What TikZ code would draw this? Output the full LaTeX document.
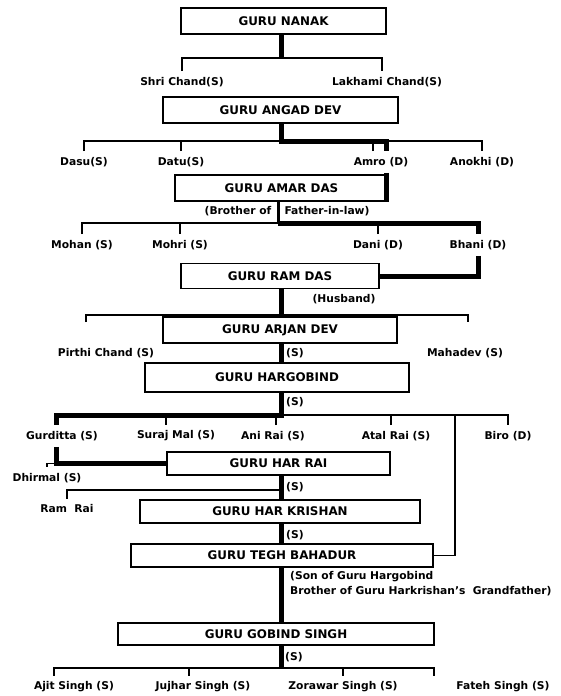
\documentclass[tikz,border=0pt]{standalone}
\usepackage{fontspec}
\setmainfont{DejaVu Sans}
\begin{document}
\begin{tikzpicture}
		[x=1pt,y=-1pt,
		guru/.style={draw,line width=1.9pt,inner sep=0pt,
			font=\bfseries\fontsize{11.9}{13}\selectfont},
		kin/.style={inner xsep=1pt,inner ysep=6pt,
			font=\bfseries\fontsize{10.7}{12}\selectfont},
		son/.style={kin,anchor=west,inner ysep=1pt},
		branch/.style={line width=1.6pt},
		spine/.style={line width=5pt},
		]
		\useasboundingbox (0,0) rectangle (560,696);
		\coordinate (axis) at (281,0);
		\coordinate (b1) at (281,58);
		\coordinate (b2) at (281,141);
		\coordinate (a2) at (386,151);
		\coordinate (b3) at (278,223);
		\coordinate (b4) at (281,315);
		\coordinate (t4a) at (86,322);
		\coordinate (t4b) at (468,322);
		\coordinate (b6) at (281,415);
		\coordinate (g6) at (56,415);
		\coordinate (b6r) at (455,415);
		\coordinate (b7) at (281,490);
		\coordinate (b10) at (281,668);
		
		\node[guru,minimum width=205pt,minimum height=26pt] (nanak) at (283.5,21) {GURU NANAK};
		\node[guru,minimum width=235pt,minimum height=26pt] (angad) at (280.5,110) {GURU ANGAD DEV};
		\node[guru,minimum width=213pt,minimum height=26pt] (amardas) at (281.5,188) {GURU AMAR DAS};
		\node[guru,minimum width=198pt,minimum height=25pt] (ramdas) at (280,276) {GURU RAM DAS};
		\node[guru,minimum width=234pt,minimum height=26pt] (arjan) at (280,330) {GURU ARJAN DEV};
		\node[guru,minimum width=264pt,minimum height=29pt] (hargobind) at (277,377.5) {GURU HARGOBIND};
		\node[guru,minimum width=223pt,minimum height=23pt] (harrai) at (278.5,463.5) {GURU HAR RAI};
		\node[guru,minimum width=280pt,minimum height=23pt] (harkrishan) at (280,511.5) {GURU HAR KRISHAN};
		\node[guru,minimum width=302pt,minimum height=23pt] (tegh) at (282,555.5) {GURU TEGH BAHADUR};
		\node[guru,minimum width=316pt,minimum height=22pt] (gobind) at (276,634) {GURU GOBIND SINGH};
		
		\node[kin] (shri) at (182,82) {Shri Chand(S)};
		\node[kin] (lakhami) at (387,82) {Lakhami Chand(S)};
		\node[kin] (dasu) at (84,162) {Dasu(S)};
		\node[kin] (datu) at (181,162) {Datu(S)};
		\node[kin] (amro) at (381,162) {Amro (D)};
		\node[kin] (anokhi) at (482,162) {Anokhi (D)};
		\node[kin] (brother) at (238,211) {(Brother of};
		\node[kin] (father) at (327,211) {Father-in-law)};
		\node[kin] (mohan) at (82,245) {Mohan (S)};
		\node[kin] (mohri) at (180,245) {Mohri (S)};
		\node[kin] (dani) at (378,245) {Dani (D)};
		\node[kin] (bhani) at (478,245) {Bhani (D)};
		\node[kin] (husband) at (344,299) {(Husband)};
		\node[kin] (pirthi) at (106,353) {Pirthi Chand (S)};
		\node[kin] (mahadev) at (465,353) {Mahadev (S)};
		\node[kin] (gurditta) at (62,436) {Gurditta (S)};
		\node[kin] (suraj) at (176,436) {Suraj Mal (S)};
		\node[kin] (ani) at (273,436) {Ani Rai (S)};
		\node[kin] (atal) at (396,436) {Atal Rai (S)};
		\node[kin] (biro) at (508,436) {Biro (D)};
		\node[kin] (dhirmal) at (47,478) {Dhirmal (S)};
		\node[kin] (ramrai) at (67,509) {Ram\ \ Rai};
		\node[kin] (ajit) at (74,687) {Ajit Singh (S)};
		\node[kin] (jujhar) at (203,687) {Jujhar Singh (S)};
		\node[kin] (zorawar) at (343,687) {Zorawar Singh (S)};
		\node[kin] (fateh) at (503,687) {Fateh Singh (S)};
		
		\node[son] (s1) at (285,353) {(S)};
		\node[son] (s2) at (285,402) {(S)};
		\node[son] (s3) at (285,487) {(S)};
		\node[son] (s4) at (285,535) {(S)};
		\node[son] (s5) at (284,657) {(S)};
		\node[kin,anchor=north west,align=left,inner sep=0pt,
			font=\bfseries\fontsize{10.7}{15}\selectfont] (note) at (290,571)
			{(Son of Guru Hargobind\\Brother of Guru Harkrishan's\ \ Grandfather)};
		
		\draw[spine] (nanak.south -| axis) -- (b1);
		\draw[branch] (shri.north) |- (b1) -| ([xshift=-5pt]lakhami.north);
		
		\draw[branch] (dasu.north) |- (b2) -| (anokhi.north);
		\draw[branch] (datu.north) |- (b2);
		\draw[branch] (amro.north) ++(-8,0) |- (b2);
		\draw[spine] (angad.south -| axis) -- (b2) -| (a2);
		\draw[spine] (a2 |- amro.south) -- (a2 |- amardas.south);
		
		\draw[line width=3pt] (amardas.south -| b3) -- (b3);
		\draw[branch] (mohan.north) |- (b3);
		\draw[branch] (mohri.north) |- (b3);
		\draw[branch] (dani.north) |- (b3);
		\draw[spine] (b3) -| (bhani.north);
		\draw[spine] (bhani.south) |- (ramdas.east);
		
		\draw[branch] (t4a) |- (b4) -| (t4b);
		\draw[spine] (ramdas.south -| axis) -- (arjan.north -| axis);
		\draw[spine] (arjan.south -| axis) -- (hargobind.north -| axis);
		
		\draw[branch] (b6) -| (biro.north);
		\draw[branch] (suraj.north) ++(-10,0) |- (b6);
		\draw[branch] (ani.north) ++(3,0) |- (b6);
		\draw[branch] (atal.north) ++(-5,0) |- (b6);
		\draw[branch] (tegh.east) -| (b6r);
		\draw[spine] (hargobind.south -| axis) -- (b6) -| (g6 |- gurditta.north);
		\draw[spine] (g6 |- gurditta.south) |- (harrai.west);
		\draw[branch] (g6 |- harrai.west) -| (dhirmal.north);
		
		\draw[branch] (ramrai.north) |- (b7);
		\draw[spine] (harrai.south -| axis) -- (harkrishan.north -| axis);
		\draw[spine] (harkrishan.south -| axis) -- (tegh.north -| axis);
		\draw[spine] (tegh.south -| axis) -- (gobind.north -| axis);
		
		\draw[branch] ([xshift=-20pt]ajit.north) |- (b10) -| ([xshift=-69pt]fateh.north);
		\draw[branch] (jujhar.north) ++(-14,0) |- (b10);
		\draw[branch] (zorawar.north) |- (b10);
		\draw[spine] (gobind.south -| axis) -- (b10);
	\end{tikzpicture}
\end{document}
